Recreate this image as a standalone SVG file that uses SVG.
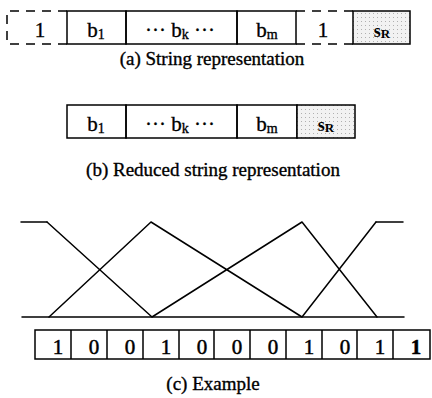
<svg xmlns="http://www.w3.org/2000/svg" width="432" height="398" viewBox="0 0 432 398">
<style>
.box{fill:none;stroke:#000;stroke-width:1.5}
.dash{fill:none;stroke:#000;stroke-width:1.5;stroke-dasharray:9 7}
.t{font-family:"Liberation Serif","Times New Roman",serif;font-size:21px;fill:#000;stroke:#000;stroke-width:0.35;text-anchor:middle}
.sub{font-size:14px}
.sr{font-family:"Liberation Serif",serif;font-weight:bold;fill:#000;text-anchor:middle}
.cap{font-family:"Liberation Serif","Times New Roman",serif;font-size:19px;fill:#000;stroke:#000;stroke-width:0.35;text-anchor:middle}
.ln{fill:none;stroke:#000;stroke-width:1.5;stroke-linecap:round}
.d{font-family:"Liberation Serif",serif;font-size:21px;fill:#000;stroke:#000;stroke-width:0.5;text-anchor:middle}
</style>
<defs>
<pattern id="dots" width="4" height="4" patternUnits="userSpaceOnUse">
<rect width="4" height="4" fill="#f2f2f2"/>
<rect x="1" y="1" width="1" height="1" fill="#b0b0b0"/>
</pattern>
</defs>

<g id="row-a">
<g id="a-one-left">
<path class="dash" d="M67 11 H7 V44 H67"/>
<text class="t" x="40" y="37">1</text>
</g>
<g id="a-b1">
<rect class="box" x="67" y="11" width="59" height="33"/>
<text class="t" x="96" y="37">b<tspan class="sub" dy="2">1</tspan></text>
</g>
<g id="a-bk">
<rect class="box" x="126" y="11" width="111" height="33"/>
<text class="t" x="180" y="37">··· b<tspan class="sub" dy="2">k</tspan><tspan dy="-2"> ···</tspan></text>
</g>
<g id="a-bm">
<rect class="box" x="237" y="11" width="59" height="33"/>
<text class="t" x="267" y="37">b<tspan class="sub" dy="2">m</tspan></text>
</g>
<g id="a-one-right">
<path class="dash" d="M296 11 H353 M296 44 H353"/>
<text class="t" x="323" y="37">1</text>
</g>
<g id="a-sr">
<rect x="353" y="11" width="57" height="33" fill="url(#dots)" stroke="#000" stroke-width="1.5"/>
<text class="sr" x="382" y="37" font-size="18">s<tspan font-size="13" dy="1">R</tspan></text>
</g>
</g>
<text class="cap" x="212" y="65">(a) String representation</text>

<g id="row-b">
<g id="b-b1">
<rect class="box" x="67" y="105" width="59" height="33"/>
<text class="t" x="96" y="131">b<tspan class="sub" dy="2">1</tspan></text>
</g>
<g id="b-bk">
<rect class="box" x="126" y="105" width="111" height="33"/>
<text class="t" x="180" y="131">··· b<tspan class="sub" dy="2">k</tspan><tspan dy="-2"> ···</tspan></text>
</g>
<g id="b-bm">
<rect class="box" x="237" y="105" width="60" height="33"/>
<text class="t" x="267" y="131">b<tspan class="sub" dy="2">m</tspan></text>
</g>
<g id="b-sr">
<rect x="297" y="105" width="58" height="33" fill="url(#dots)" stroke="#000" stroke-width="1.5"/>
<text class="sr" x="326" y="131" font-size="18">s<tspan font-size="13" dy="1">R</tspan></text>
</g>
</g>
<text class="cap" x="213" y="176">(b) Reduced string representation</text>

<g id="connectors">
<path class="ln" d="M21 222 H47 M376 222 H403 M22 317 H404"/>
<path class="ln" d="M47 222 L152 317 M49 317 L151 222 M151 222 L302 317 M152 317 L302 222 M302 222 L377 317 M302 317 L376 222"/>
</g>

<g id="row-c">
<rect class="box" x="35" y="330" width="395" height="29"/>
<path class="box" d="M71 330 V359 M107 330 V359 M143 330 V359 M179 330 V359 M214 330 V359 M250 330 V359 M286 330 V359 M322 330 V359 M357 330 V359 M393 330 V359"/>
<text class="d" x="58" y="354">1</text>
<text class="d" x="94" y="354">0</text>
<text class="d" x="130" y="354">0</text>
<text class="d" x="166" y="354">1</text>
<text class="d" x="202" y="354">0</text>
<text class="d" x="237" y="354">0</text>
<text class="d" x="273" y="354">0</text>
<text class="d" x="309" y="354">1</text>
<text class="d" x="345" y="354">0</text>
<text class="d" x="380" y="354">1</text>
<text class="d" x="416" y="354" font-weight="bold">1</text>
</g>
<text class="cap" x="213" y="390">(c) Example</text>
</svg>
